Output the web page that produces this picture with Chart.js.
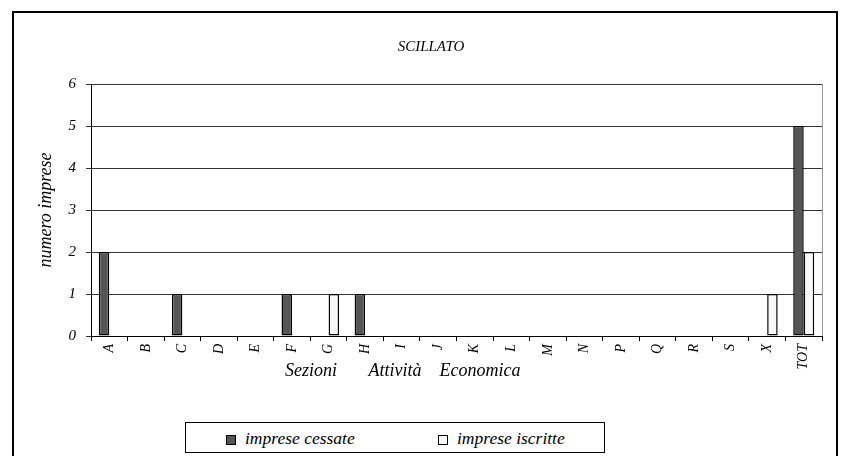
<!DOCTYPE html>
<html lang="it">
<head>
<meta charset="UTF-8">
<title>SCILLATO</title>
<script src="https://cdn.jsdelivr.net/npm/chart.js@4.4.0/dist/chart.umd.min.js"></script>
<style>
*{box-sizing:border-box;margin:0;padding:0}
body{background:#fff;width:841px;height:456px;overflow:hidden;position:relative;font-family:"Liberation Serif",serif}
.frame{position:absolute;left:12px;top:11px;width:826px;height:470px;border:2px solid #000}
.cw{position:absolute;left:0;top:0;width:841px;height:456px}
.legend{position:absolute;left:185px;top:422px;width:420px;height:31px;border:1px solid #000;background:#fff;font-style:italic;font-size:17.5px}
.legend span.sw{position:absolute;top:12px;width:10px;height:10px;border:1px solid #000}
.legend span.tx{position:absolute;top:5px;line-height:20px;white-space:nowrap}
</style>
</head>
<body>
<div class="frame"></div>
<div class="cw"><canvas id="chart" width="841" height="456"></canvas></div>
<div class="legend">
  <span class="sw" style="left:40px;background:#555555"></span><span class="tx" style="left:59px">imprese cessate</span>
  <span class="sw" style="left:252px;background:#f8f8f8"></span><span class="tx" style="left:271px">imprese iscritte</span>
</div>
<script>
const categories = ["A", "B", "C", "D", "E", "F", "G", "H", "I", "J", "K", "L", "M", "N", "P", "Q", "R", "S", "X", "TOT"];
const cessate = [2, 0, 1, 0, 0, 1, 0, 1, 0, 0, 0, 0, 0, 0, 0, 0, 0, 0, 0, 5];
const iscritte = [0, 0, 0, 0, 0, 0, 1, 0, 0, 0, 0, 0, 0, 0, 0, 0, 0, 0, 1, 2];
const chartTitle = "SCILLATO";
const yTitle = "numero imprese";
const xTitle = "Sezioni       Attività    Economica";

const serif = "'Liberation Serif', 'Times New Roman', serif";

// titoli disegnati a mano: nell'originale non sono centrati sull'area del grafico
const titles = {
  id: "titles",
  afterDraw(chart) {
    const ctx = chart.ctx, a = chart.chartArea;
    ctx.save();
    ctx.fillStyle = "#000";
    ctx.textBaseline = "middle";
    ctx.font = "italic 15px " + serif;
    ctx.textAlign = "center";
    ctx.fillText(chartTitle, a.left + 340, 47);
    ctx.font = "italic 18px " + serif;
    ctx.textAlign = "left";
    ctx.fillText(xTitle, a.left + 194, a.bottom + 35);
    ctx.restore();
  }
};

// bordo destro grigio dell'area del grafico
const rightEdge = {
  id: "rightEdge",
  afterDatasetsDraw(chart) {
    const ctx = chart.ctx, a = chart.chartArea;
    ctx.save();
    ctx.strokeStyle = "#999";
    ctx.lineWidth = 1;
    ctx.beginPath();
    ctx.moveTo(a.right + 0.5, a.top);
    ctx.lineTo(a.right + 0.5, a.bottom);
    ctx.stroke();
    ctx.restore();
  }
};

new Chart(document.getElementById("chart"), {
  type: "bar",
  data: {
    labels: categories,
    datasets: [
      { label: "imprese cessate", data: cessate, backgroundColor: "#555555", borderColor: "#000", borderWidth: 1.5, borderSkipped: false, categoryPercentage: 0.575, barPercentage: 1 },
      { label: "imprese iscritte", data: iscritte, backgroundColor: "#f8f8f8", borderColor: "#000", borderWidth: 1.5, borderSkipped: false, categoryPercentage: 0.575, barPercentage: 1 }
    ]
  },
  options: {
    responsive: false,
    animation: false,
    layout: { padding: { left: 0, right: 19, top: 84, bottom: 0 } },
    plugins: {
      legend: { display: false },
      tooltip: { enabled: false },
      title: { display: false }
    },
    scales: {
      x: {
        offset: true,
        grid: { display: true, drawOnChartArea: false, drawTicks: true, tickLength: 5, color: "#000", offset: true },
        border: { color: "#000", width: 1 },
        ticks: { color: "#000", autoSkip: false, maxRotation: 90, minRotation: 90, padding: 3, font: { family: serif, size: 14, style: "italic" } },
        afterFit: (s) => { s.height = 120; }
      },
      y: {
        min: 0, max: 6,
        grid: { color: "#333", lineWidth: 1, tickLength: 5, drawTicks: true },
        border: { color: "#000", width: 1 },
        ticks: { stepSize: 1, color: "#000", padding: 10, font: { family: serif, size: 15, style: "italic" } },
        title: { display: true, text: yTitle, color: "#000", padding: { top: 35, bottom: 0 }, font: { family: serif, size: 18, style: "italic", lineHeight: 1.2 } },
        afterFit: (s) => { s.width = 91; }
      }
    }
  },
  plugins: [titles, rightEdge]
});
</script>
</body>
</html>
